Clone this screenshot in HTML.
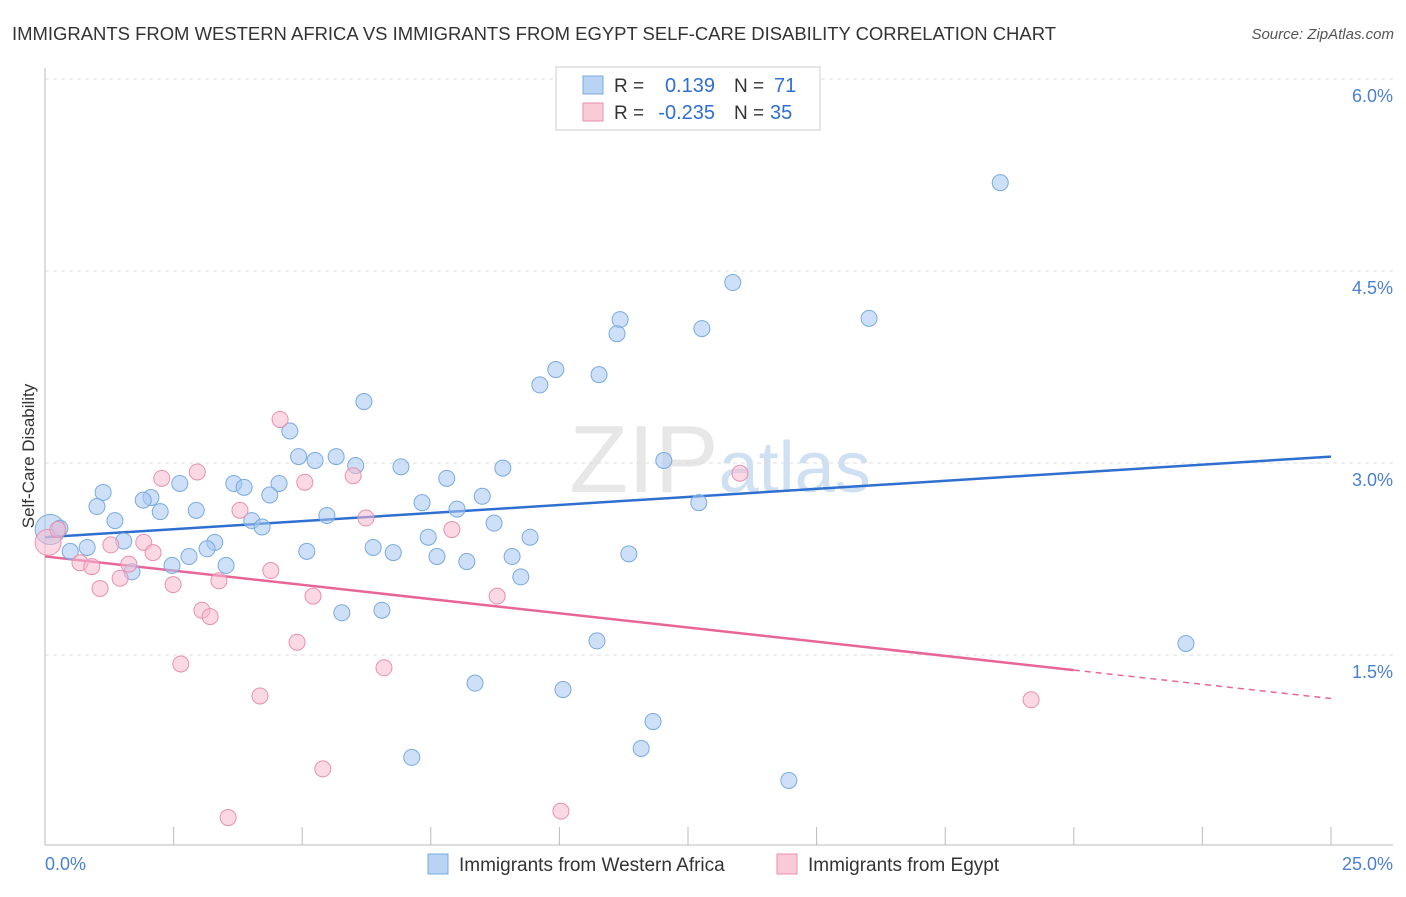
<!DOCTYPE html>
<html><head><meta charset="utf-8"><style>
body{margin:0;background:#fff;font-family:"Liberation Sans",sans-serif}
svg text{font-family:"Liberation Sans",sans-serif}
</style></head><body>
<svg id="chart" width="1406" height="892" xmlns="http://www.w3.org/2000/svg">
<text x="12" y="40" font-size="18" fill="#333" textLength="1044" lengthAdjust="spacingAndGlyphs">IMMIGRANTS FROM WESTERN AFRICA VS IMMIGRANTS FROM EGYPT SELF-CARE DISABILITY CORRELATION CHART</text>
<text x="1394" y="39" font-size="15" fill="#555" text-anchor="end" font-style="italic">Source: ZipAtlas.com</text>
<text x="720" y="492" font-size="96" fill="#ddd" text-anchor="middle" font-family="Liberation Serif" opacity="0.7">ZIP<tspan fill="#bcd3ee" font-family="Liberation Sans" font-size="72">atlas</tspan></text>
<g id="grid"></g>
<g id="axes"></g>
<g id="lines"></g>
<g id="points"></g>
<text transform="translate(34,456) rotate(-90)" font-size="17" fill="#333" text-anchor="middle">Self-Care Disability</text>
<g>
<rect x="556" y="67" width="264" height="63" fill="#fff" stroke="#ccc"/>
<rect x="583" y="76" width="20" height="18" fill="#b9d3f5" stroke="#7aaae0"/>
<rect x="583" y="103" width="20" height="18" fill="#f9cad8" stroke="#e890b0"/>
<text x="614" y="92" font-size="19" fill="#333">R =</text>
<text x="715" y="92" font-size="20" fill="#2f6fd0" text-anchor="end">0.139</text>
<text x="734" y="92" font-size="19" fill="#333">N =</text>
<text x="774" y="92" font-size="20" fill="#2f6fd0">71</text>
<text x="614" y="119" font-size="19" fill="#333">R =</text>
<text x="715" y="119" font-size="20" fill="#2f6fd0" text-anchor="end">-0.235</text>
<text x="734" y="119" font-size="19" fill="#333">N =</text>
<text x="770" y="119" font-size="20" fill="#2f6fd0">35</text>
</g>
<g>
<rect x="428" y="854" width="20" height="20" fill="#b9d3f5" stroke="#7aaae0"/>
<text x="459" y="871" font-size="19" fill="#333">Immigrants from Western Africa</text>
<rect x="777" y="854" width="20" height="20" fill="#f9cad8" stroke="#e890b0"/>
<text x="808" y="871" font-size="19" fill="#333">Immigrants from Egypt</text>
</g>
</svg>
<script>
const yTicks=[1.5,3.0,4.5,6.0];
const yTickLabels=["1.5%","3.0%","4.5%","6.0%"];
const xTicks=[0,2.5,5,7.5,10,12.5,15,17.5,20,22.5,25];
const blueX=[18.57,13.37,16.02,11.18,11.12,12.77,9.93,9.62,10.77,6.20,4.76,4.93,5.25,5.66,6.04,6.92,8.90,12.03,7.81,2.62,3.67,3.87,4.55,4.37,1.13,2.06,1.91,1.01,2.24,2.94,7.33,8.01,8.50,12.71,5.48,1.36,4.02,4.22,8.73,0.29,7.45,9.43,1.53,3.30,0.82,0.49,3.15,5.09,6.38,6.77,7.62,9.08,11.35,2.80,2.47,3.52,8.20,1.69,9.25,5.77,6.55,10.73,22.18,8.36,10.07,11.82,11.59,7.13,14.46];
const blueY=[5.19,4.41,4.13,4.12,4.01,4.05,3.73,3.61,3.69,3.48,3.25,3.05,3.02,3.05,2.98,2.97,2.96,3.02,2.88,2.84,2.84,2.81,2.84,2.75,2.77,2.73,2.71,2.66,2.62,2.63,2.69,2.64,2.74,2.69,2.59,2.55,2.55,2.50,2.53,2.49,2.42,2.42,2.39,2.38,2.34,2.31,2.33,2.31,2.34,2.30,2.27,2.27,2.29,2.27,2.20,2.20,2.23,2.15,2.11,1.83,1.85,1.61,1.59,1.28,1.23,0.98,0.77,0.70,0.52];
const pinkX=[4.57,2.96,2.27,5.99,5.05,13.51,3.79,6.24,7.91,0.25,1.28,1.92,2.10,0.68,0.91,1.63,4.39,1.46,3.38,2.49,1.07,5.21,8.79,3.05,3.21,4.90,2.64,6.59,4.18,19.17,5.40,10.03,3.56];
const pinkY=[3.34,2.93,2.88,2.90,2.85,2.92,2.63,2.57,2.48,2.48,2.36,2.38,2.30,2.22,2.19,2.21,2.16,2.10,2.08,2.05,2.02,1.96,1.96,1.85,1.80,1.60,1.43,1.40,1.18,1.15,0.61,0.28,0.23];
const bigBlue=[0.10,2.48], bigPink=[0.06,2.38];
const blueTrend=[2.42,3.05];
const pinkTrend=[2.27,1.16]; const pinkSolidEnd=20;
const NS="http://www.w3.org/2000/svg";
const X=v=>45+v/25*1286, Y=v=>847-v*128;
function mk(tag,attrs,parent){const e=document.createElementNS(NS,tag);for(const k in attrs)e.setAttribute(k,attrs[k]);document.getElementById(parent).appendChild(e);return e;}
yTicks.forEach((t,i)=>{
 const g=mk('line',{x1:45,x2:1393,y1:Y(t),y2:Y(t),stroke:'#ddd','stroke-dasharray':'4,4'},'grid');
 
 
 const tx=mk('text',{x:1393,y:Y(t)+23,'font-size':18,fill:'#4a80d0','text-anchor':'end'},'grid');
 tx.textContent=yTickLabels[i];
 
 
});
const topLine=mk('line',{x1:45,x2:1393,y1:79,y2:79,stroke:'#ddd','stroke-dasharray':'4,4'},'grid');


const ax=mk('line',{x1:45,x2:1393,y1:845,y2:845,stroke:'#bbb'},'axes');


const ay=mk('line',{x1:45,x2:45,y1:68,y2:845,stroke:'#bbb'},'axes');


xTicks.forEach(t=>{const l=mk('line',{x1:X(t),x2:X(t),y1:827,y2:845,stroke:'#bbb'},'axes');
 
 });
const xl0=mk('text',{x:45,y:870,'font-size':18,fill:'#4a80d0'},'axes');xl0.textContent='0.0%';


const xl1=mk('text',{x:1393,y:870,'font-size':18,fill:'#4a80d0','text-anchor':'end'},'axes');xl1.textContent='25.0%';


function dot(x,y,r,c,name){const d=mk('circle',{cx:X(x),cy:Y(y),r:r,fill:c[0],stroke:c[1],'stroke-width':1},'points');
 
 }
const bc=['rgba(165,198,240,0.55)','#7aaae0'], pc=['rgba(247,185,205,0.55)','#e890b0'];
dot(bigBlue[0],bigBlue[1],15,bc,'point-western-africa');
dot(bigPink[0],bigPink[1],13,pc,'point-egypt');
blueX.forEach((x,i)=>dot(x,blueY[i],8,bc,'point-western-africa'));
pinkX.forEach((x,i)=>dot(x,pinkY[i],8,pc,'point-egypt'));
const pv=x=>pinkTrend[0]+(pinkTrend[1]-pinkTrend[0])*x/25;
const bl=mk('line',{x1:X(0),y1:Y(blueTrend[0]),x2:X(25),y2:Y(blueTrend[1]),stroke:'#2f6fd0','stroke-width':2.5},'lines');


const pl=mk('line',{x1:X(0),y1:Y(pv(0)),x2:X(pinkSolidEnd),y2:Y(pv(pinkSolidEnd)),stroke:'#e8659a','stroke-width':2.5},'lines');


const pd=mk('line',{x1:X(pinkSolidEnd),y1:Y(pv(pinkSolidEnd)),x2:X(25),y2:Y(pv(25)),stroke:'#e8659a','stroke-width':1.5,'stroke-dasharray':'6,5'},'lines');


</script>
</body></html>
